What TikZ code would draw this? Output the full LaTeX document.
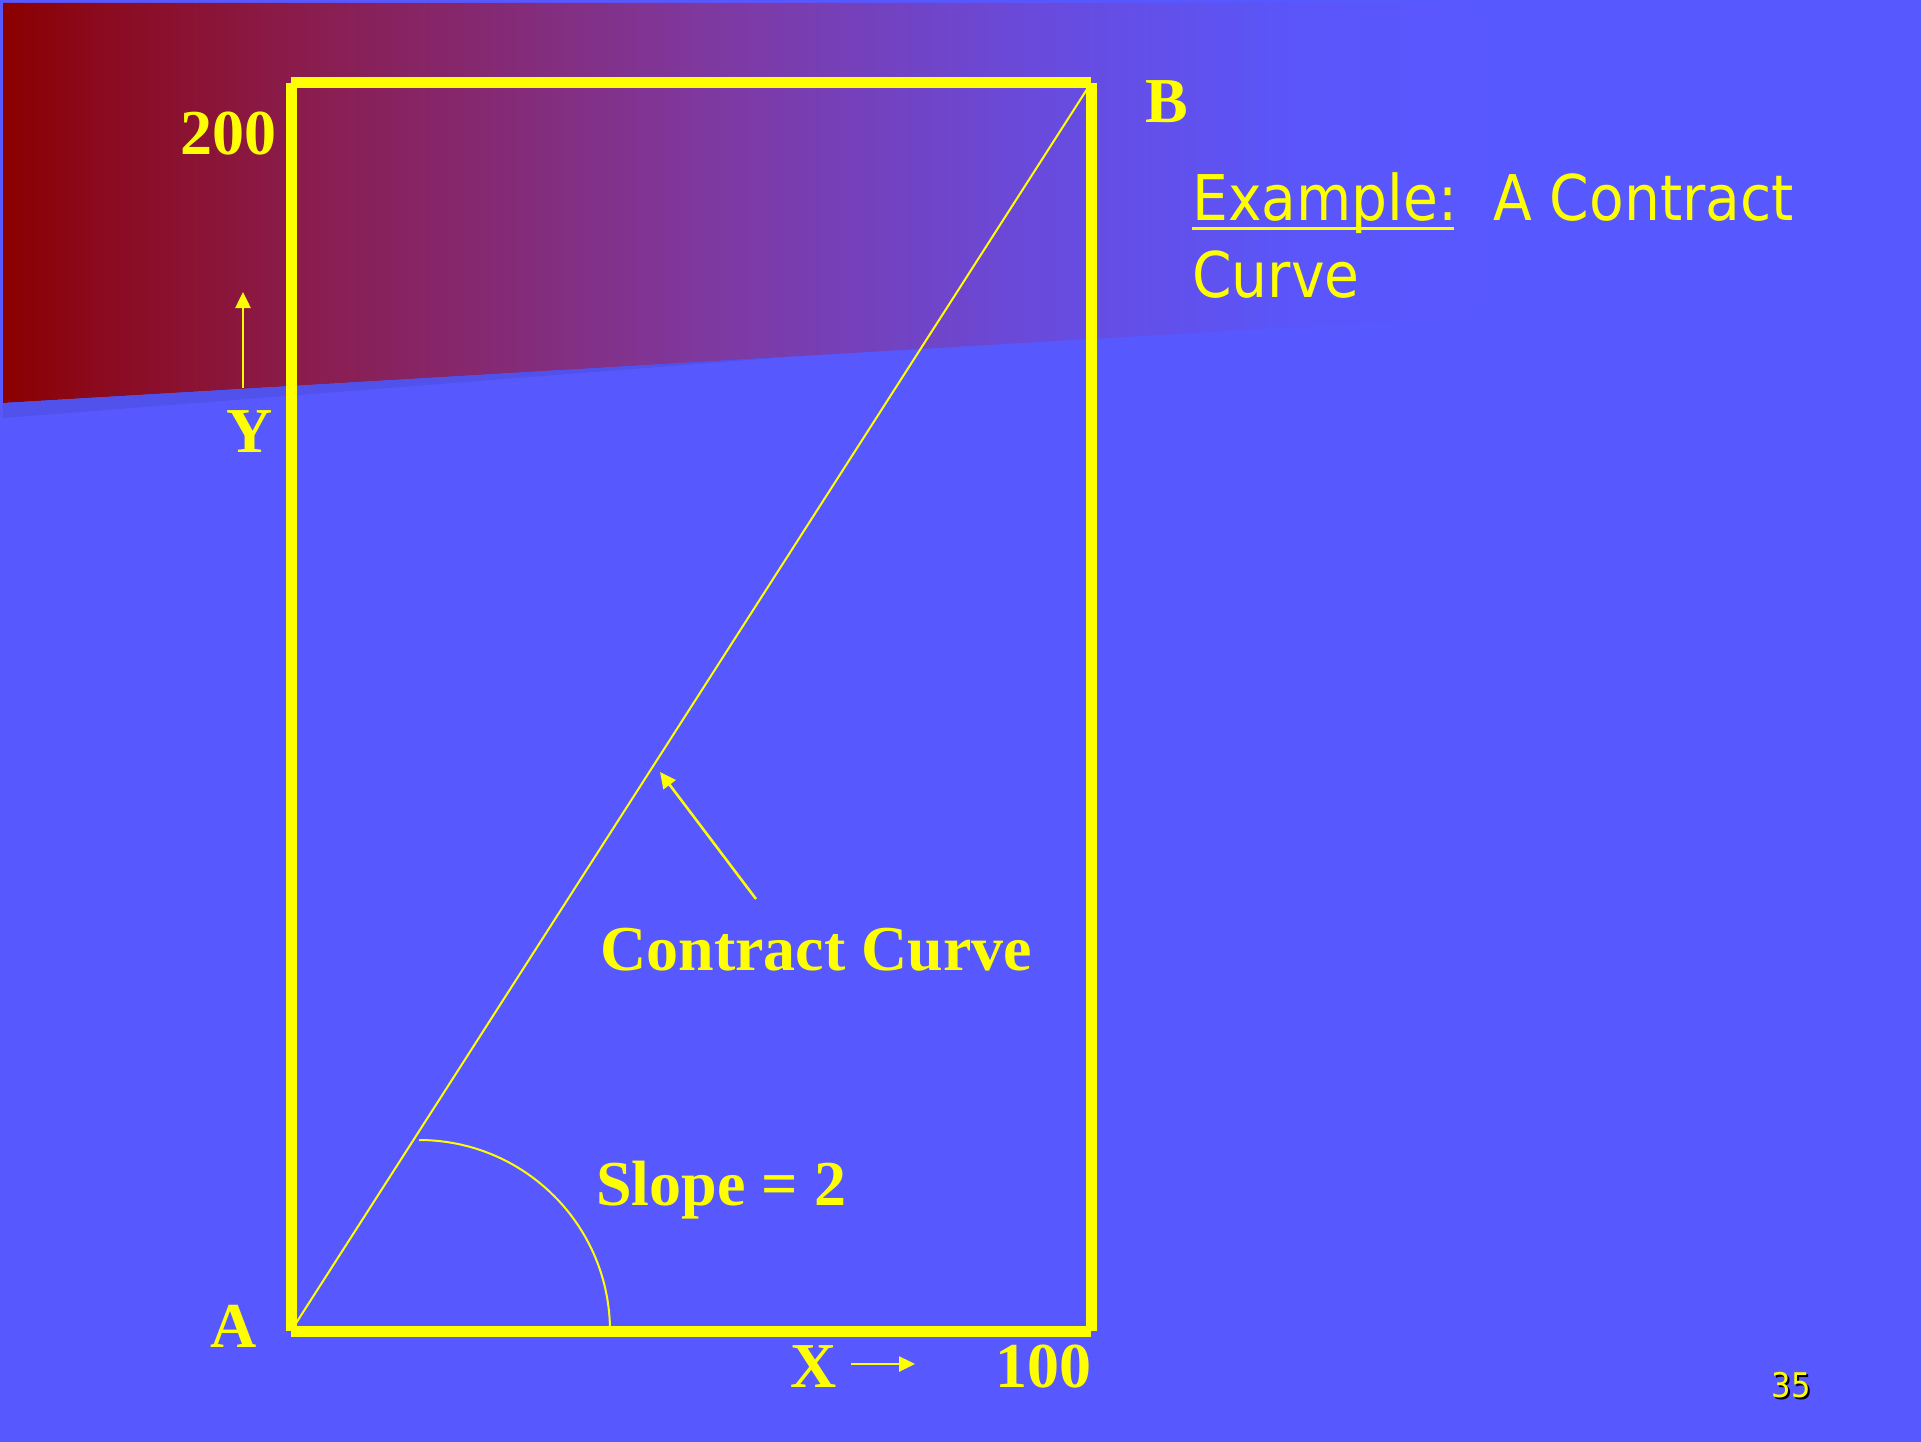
\documentclass[tikz,border=0pt]{standalone}
\usepackage{fontspec}
\setmainfont{Liberation Serif}
\newfontfamily\tahoma{DejaVu Sans Condensed}
\usetikzlibrary{arrows.meta,positioning,calc}
\definecolor{slideblue}{HTML}{5858FF}
\definecolor{slideshadow}{HTML}{5151EC}
\definecolor{slideyellow}{HTML}{FFFF00}
\definecolor{band0}{HTML}{8B0000}
\definecolor{band1}{HTML}{8B0A1E}
\definecolor{band2}{HTML}{8A1C4C}
\definecolor{band3}{HTML}{7F389E}
\definecolor{band4}{HTML}{684BDE}
\definecolor{band5}{HTML}{5A56FA}
\definecolor{band6}{HTML}{5858FF}
\pgfdeclarehorizontalshading{bandshade}{100bp}{color(0bp)=(band0); color(25bp)=(band0);
  color(27.5bp)=(band1); color(32.7bp)=(band2); color(43.2bp)=(band3);
  color(52.3bp)=(band4); color(58.8bp)=(band5); color(64bp)=(band6); color(100bp)=(band6)}

\tikzset{
  boxline/.style={slideyellow, line width=11pt},
  thinline/.style={slideyellow, line width=2pt},
  pointer/.style={slideyellow, line width=2.5pt, -{Triangle[length=16pt,width=15pt]}},
  axislabel/.style={text=slideyellow, inner sep=0pt, font=\fontsize{64}{64}\selectfont\bfseries},
  titletext/.style={text=slideyellow, inner sep=0pt, font=\fontsize{63}{63}\selectfont\tahoma},
  pagenum/.style={inner sep=0pt, anchor=base, font=\fontsize{34}{34}\selectfont\tahoma},
}

\begin{document}
\begin{tikzpicture}[x=1pt, y=-1pt]
% Slide background
\fill[slideblue] (0,0) rectangle (1921,1442);
\useasboundingbox (0,0) rectangle (1921,1442);
\shade[shading=bandshade] (3,3) -- (1921,3) -- (1921,290) -- (3,403) -- cycle;
\fill[slideshadow] (3,403) -- (800,356) -- (3,418) -- cycle;

% Edgeworth box
\coordinate (A) at (291,1331);
\coordinate (B) at (1091,83);
\coordinate (TL) at (291,83);
\coordinate (BR) at (1091,1331);
\draw[boxline] (A) -- (TL);
\draw[boxline] (TL) -- (B);
\draw[boxline] (B) -- (BR);
\draw[boxline] (BR) -- (A);

% Contract curve and slope arc
\draw[thinline] (A) -- (B);
\coordinate (arcstart) at (610,1331);
\draw[thinline] (arcstart) arc[start angle=0, end angle=-90, radius=191];

% Labels
\node[axislabel, anchor=base east] (ymax) at (277,155) {200};
\node[axislabel, anchor=base west] (blab) at (1145,123) {B};
\node[axislabel, anchor=base] (ylab) at (250,452) {Y};
\node[axislabel, anchor=base] (alab) at (234,1347) {A};
\node[axislabel, anchor=base] (xlab) at (814,1387) {X};
\node[axislabel, anchor=base east] (xmax) at (1092,1387) {100};
\node[axislabel, anchor=base west] (cclab) at (600,970) {Contract Curve};
\node[axislabel, anchor=base west] (slopelab) at (596,1205) {Slope = 2};

% Arrows
\coordinate (ytail) at (243,388);
\coordinate (yhead) at (243,292);
\draw[pointer] (ytail) -- (yhead);
\coordinate (xtail) at (851,1364);
\coordinate (xhead) at (915,1364);
\draw[pointer] (xtail) -- (xhead);
\coordinate (cctail) at (756,899);
\coordinate (cchead) at (660,772);
\draw[pointer] (cctail) -- (cchead);

% Title
\node[titletext, anchor=base west] (extitle) at (1192,220) {Example:};
\node[titletext, anchor=base west] (extopic) at (1493,220) {A Contract};
\node[titletext, anchor=base west] (excurve) at (1192,297) {Curve};
\draw[slideyellow, line width=3pt] ($(extitle.base west)+(0,8)$) -- ($(extitle.base east)+(-3,8)$);

% Page number
\node[pagenum, text=black] (pageshadow) at (1793,1399) {35};
\node[pagenum, text=slideyellow] (pagelab) at (1791,1397) {35};
\end{tikzpicture}
\end{document}
